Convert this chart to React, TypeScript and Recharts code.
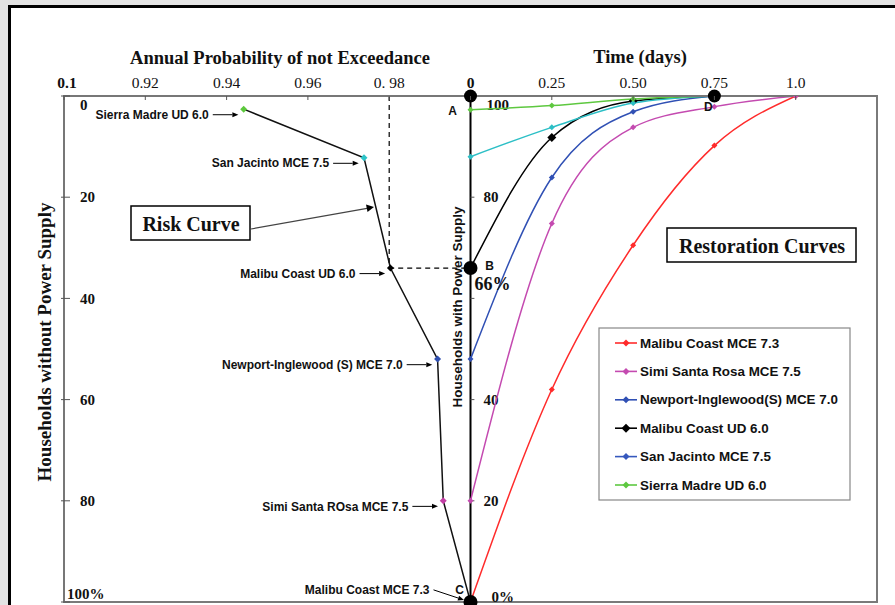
import React from 'react';
import {
  ComposedChart,
  Line,
  XAxis,
  YAxis,
  ReferenceLine,
  ReferenceDot,
  ReferenceArea,
} from 'recharts';

const SERIF = '"Liberation Serif", "Times New Roman", serif';
const SANS = '"Liberation Sans", Arial, sans-serif';

// Risk curve (left half): annual probability of not exceedance vs % households without power
const riskLabels = [
  'Sierra Madre UD 6.0',
  'San Jacinto MCE 7.5',
  'Malibu Coast UD 6.0',
  'Newport-Inglewood (S) MCE 7.0',
  'Simi Santa ROsa MCE 7.5',
  'Malibu Coast MCE 7.3',
];
const riskProbability = [0.9442, 0.9738, 0.9803, 0.9919, 0.9933, 1.0];
const riskWithoutPower = [2.6, 12.2, 34, 52, 80, 100];
const riskDotColors = ['#5cc83c', '#2ec4c8', '#000000', '#2f4fb0', '#c23fa4', '#000000'];

// Restoration curves (right half): time in days vs % households with power
const days = [0, 0.25, 0.5, 0.75, 1.0];
const malibuMce73 = [0, 42, 70.5, 90.2, 100];
const simiMce75 = [20, 74.8, 93.8, 97.9, 100];
const newportMce70 = [48, 83.9, 96.9, 100, null];
const malibuUd60 = [66, 91.8, 99, 100, null];
const sanJacintoMce75 = [88, 93.8, 98.6, 100, null];
const sierraUd60 = [97.3, 98.1, 99.4, 100, null];

const seriesNames = [
  'Malibu Coast MCE 7.3',
  'Simi Santa Rosa MCE 7.5',
  'Newport-Inglewood(S) MCE 7.0',
  'Malibu Coast UD 6.0',
  'San Jacinto MCE 7.5',
  'Sierra Madre UD 6.0',
];
const seriesValues = [malibuMce73, simiMce75, newportMce70, malibuUd60, sanJacintoMce75, sierraUd60];
const seriesColors = ['#ff2b2b', '#c44ab0', '#3050b4', '#000000', '#2cbfc6', '#5ec840'];
const legendColors = ['#ff2b2b', '#c44ab0', '#3050b4', '#000000', '#3658bd', '#5ec840'];

// axis ticks (top axis: left half shows probability, right half shows days)
const topTicks = [-1.25, -1, -0.75, -0.5, -0.25, 0, 0.25, 0.5, 0.75, 1];
const topTickLabels = ['0.1', '0.92', '0.94', '0.96', '0. 98', '0', '0.25', '0.50', '0.75', '1.0'];
const leftTicks = [0, 20, 40, 60, 80, 100];
const leftTickLabels = ['0', '20', '40', '60', '80', '100%'];
const midTicks = [0, 20, 40, 60, 80, 100];
const midTickLabels = ['0%', '20', '40', '', '80', '100'];

const riskData = riskProbability.map((p, i) => ({ p, w: riskWithoutPower[i] }));
const restorationData = seriesValues.map((vals) =>
  days.map((t, i) => ({ t, v: vals[i] })).filter((d) => d.v !== null)
);

const diamond = (cx: number, cy: number, r: number, fill: string, key?: any) => (
  <polygon
    key={key}
    points={`${cx},${cy - r} ${cx + r},${cy} ${cx},${cy + r} ${cx - r},${cy}`}
    fill={fill}
  />
);

const diamondDot = (color: string, r: number) => (props: any) => {
  const { cx, cy, index } = props;
  if (cx == null || cy == null) return <g key={index} />;
  return diamond(cx, cy, r, color, index);
};

const riskDot = (props: any) => {
  const { cx, cy, index } = props;
  if (cx == null || cy == null) return <g key={index} />;
  return diamond(cx, cy, 3.5, riskDotColors[index], index);
};

const arrowShape = (props: any) => {
  const { x1, y1, x2, y2 } = props;
  const a = Math.atan2(y2 - y1, x2 - x1);
  const bx = x2 - 6 * Math.cos(a);
  const by = y2 - 6 * Math.sin(a);
  const px = -Math.sin(a) * 2.5;
  const py = Math.cos(a) * 2.5;
  return (
    <g>
      <line x1={x1} y1={y1} x2={bx} y2={by} stroke="#000" strokeWidth={1} />
      <polygon points={`${x2},${y2} ${bx + px},${by + py} ${bx - px},${by - py}`} fill="#000" />
    </g>
  );
};

const pointLabel = (text: string) => (props: any) => {
  const vb = props.viewBox;
  return (
    <text x={vb.x - 4} y={vb.y} dy="0.35em" textAnchor="end" fontFamily={SANS}
      fontWeight="bold" fontSize={12} fill="#111">
      {text}
    </text>
  );
};

const dotText = (text: string, dx: number, dy: number, font = SANS, size = 12, anchor = 'middle') =>
  (props: any) => {
    const vb = props.viewBox;
    const cx = vb.x + (vb.width || 0) / 2;
    const cy = vb.y + (vb.height || 0) / 2;
    return (
      <text x={cx + dx} y={cy + dy} dy="0.35em" textAnchor={anchor} fontFamily={font}
        fontWeight="bold" fontSize={size} fill="#111">
        {text}
      </text>
    );
  };

const TopTick = (props: any) => {
  const { x, y, index } = props;
  const bold = index === 0 || index === 5;
  return (
    <g>
      <line x1={x} x2={x} y1={y} y2={y + 4} stroke="#555" strokeWidth={1} />
      <text x={x + (index === 0 ? 3 : 0)} y={y - 8} textAnchor="middle" fontFamily={SERIF}
        fontSize={15.5} fontWeight={bold ? 'bold' : 'normal'} fill="#111">
        {topTickLabels[index]}
      </text>
    </g>
  );
};

const LeftTick = (props: any) => {
  const { x, y, index } = props;
  const last = index === leftTicks.length - 1;
  const dy = index === 0 ? 9 : last ? -8 : 0;
  return (
    <g>
      <line x1={x - 3} x2={x + 6} y1={y} y2={y} stroke="#555" strokeWidth={1} />
      <text x={x + (last ? 3 : 16)} y={y + dy} dy="0.35em" textAnchor="start" fontFamily={SERIF}
        fontSize={15} fontWeight="bold" fill="#111">
        {leftTickLabels[index]}
      </text>
    </g>
  );
};

function Legend() {
  return (
    <g>
      <rect x={599} y={328} width={251} height={172} fill="#fff" stroke="#888" strokeWidth={1.2} />
      {seriesNames.map((name, i) => {
        const y = 343 + i * 28.4;
        return (
          <g key={name}>
            <line x1={615} x2={637} y1={y} y2={y} stroke={legendColors[i]} strokeWidth={1.6} />
            {diamond(626, y, i === 3 ? 4.5 : 3.5, legendColors[i])}
            <text x={640} y={y} dy="0.35em" fontFamily={SANS} fontWeight="bold" fontSize={13.4} fill="#111">
              {name}
            </text>
          </g>
        );
      })}
    </g>
  );
}

export default function App() {
  return (
    <div style={{ position: 'absolute', left: 0, top: 0, width: 895, height: 605, background: '#e3e3e3', overflow: 'hidden' }}>
      <div style={{ position: 'absolute', left: 8, top: 5, width: 895, height: 620, border: '3px solid #000', background: '#fff' }} />
      <div style={{ position: 'absolute', left: 0, top: 0 }}>
        <ComposedChart width={895} height={605} margin={{ top: 66, right: 18, bottom: 3, left: 64 }}>
          <XAxis xAxisId="time" dataKey="t" type="number" orientation="top" domain={[-1.25, 1.25]}
            ticks={topTicks} interval={0} height={30} tickSize={0} tickMargin={0} allowDataOverflow
            axisLine={{ stroke: '#777', strokeWidth: 2 }} tickLine={false} tick={(p: any) => <TopTick {...p} />} />
          <XAxis xAxisId="prob" dataKey="p" type="number" orientation="bottom" domain={[0.9, 1.1]} hide allowDataOverflow />
          <YAxis yAxisId="without" type="number" orientation="left" mirror reversed domain={[0, 100]}
            ticks={leftTicks} interval={0} tickSize={0} tickMargin={0} allowDataOverflow
            axisLine={{ stroke: '#777', strokeWidth: 2 }} tickLine={false} tick={(p: any) => <LeftTick {...p} />} />
          <YAxis yAxisId="with" type="number" orientation="right" domain={[0, 100]} hide allowDataOverflow />

          <ReferenceArea xAxisId="time" yAxisId="with" x1={-1.25} x2={1.25} y1={0} y2={100}
            fill="none" stroke="#7a7a7a" strokeWidth={2} fillOpacity={0} />

          {/* dashed guide from Malibu Coast UD 6.0 to point B */}
          <ReferenceLine xAxisId="prob" yAxisId="without" segment={[{ x: 0.98, y: 0 }, { x: 0.98, y: riskWithoutPower[2] }]}
            stroke="#000" strokeDasharray="5 4" strokeWidth={1.2} />
          <ReferenceLine xAxisId="prob" yAxisId="without" segment={[{ x: 0.98, y: riskWithoutPower[2] }, { x: 1.0, y: riskWithoutPower[2] }]}
            stroke="#000" strokeDasharray="5 4" strokeWidth={1.2} />

          {/* middle axis: households with power supply */}
          <ReferenceLine xAxisId="time" yAxisId="with" x={0} stroke="#000" strokeWidth={2} />
          {midTicks.map((v, i) => {
            const last = i === midTicks.length - 1;
            const dx = i === 0 ? 21 : last ? 16 : 13;
            const dy = i === 0 ? -5 : last ? 9 : 0;
            return (
              <ReferenceLine key={'mt' + v} xAxisId="time" yAxisId="with"
                segment={[{ x: 0, y: v }, { x: 0.012, y: v }]} stroke="#555" strokeWidth={1}
                label={(p: any) => (
                  <text x={p.viewBox.x + dx} y={p.viewBox.y + dy} dy="0.35em" fontFamily={SERIF}
                    fontSize={15} fontWeight="bold" fill="#111">
                    {midTickLabels[i]}
                  </text>
                )} />
            );
          })}

          <Line data={riskData} xAxisId="prob" yAxisId="without" dataKey="w" type="linear"
            stroke="#111" strokeWidth={1.5} dot={riskDot} activeDot={false} isAnimationActive={false} />

          {restorationData.map((d, k) => (
            <Line key={seriesNames[k]} data={d} xAxisId="time" yAxisId="with" dataKey="v" type="monotone"
              stroke={seriesColors[k]} strokeWidth={1.5} dot={diamondDot(seriesColors[k], k === 3 ? 4.5 : 3)}
              activeDot={false} isAnimationActive={false} />
          ))}

          {/* event labels with arrows on the risk curve */}
          {riskProbability.slice(0, 5).map((p, i) => (
            <ReferenceLine key={'lab' + i} xAxisId="prob" yAxisId="without"
              segment={[{ x: p - 0.0076, y: riskWithoutPower[i] + 1.1 }, { x: p - 0.0013, y: riskWithoutPower[i] + 1.1 }]}
              shape={arrowShape} label={pointLabel(riskLabels[i])} />
          ))}
          <ReferenceLine xAxisId="prob" yAxisId="without"
            segment={[{ x: riskProbability[5] - 0.0091, y: riskWithoutPower[5] - 2.4 }, { x: riskProbability[5] - 0.0016, y: riskWithoutPower[5] - 0.4 }]}
            shape={arrowShape} label={pointLabel(riskLabels[5])} />

          {/* points A, B, C, D */}
          <ReferenceDot xAxisId="time" yAxisId="with" x={0} y={sierraUd60[0] as number} r={0}
            fill="none" stroke="none" label={dotText('A', -18, 1)} />
          <ReferenceDot xAxisId="time" yAxisId="with" x={0} y={100} r={6.5} fill="#000" stroke="none" />
          <ReferenceDot xAxisId="time" yAxisId="with" x={0} y={malibuUd60[0] as number} r={7} fill="#000" stroke="none"
            label={dotText('B', 19, -2)} />
          <ReferenceDot xAxisId="time" yAxisId="with" x={0} y={malibuUd60[0] as number} r={0} fill="none" stroke="none"
            label={dotText('66%', 22, 16, SERIF, 18)} />
          <ReferenceDot xAxisId="time" yAxisId="with" x={0} y={malibuMce73[0] as number} r={7} fill="#000" stroke="none"
            label={dotText('C', -11, -12)} />
          <ReferenceDot xAxisId="time" yAxisId="with" x={days[3]} y={malibuUd60[3] as number} r={6.5} fill="#000" stroke="none"
            label={dotText('D', -6, 11)} />
        </ComposedChart>
      </div>

      <svg width={895} height={605} style={{ position: 'absolute', left: 0, top: 0, pointerEvents: 'none' }}>
        <text x={280} y={64} textAnchor="middle" fontFamily={SERIF} fontWeight="bold" fontSize={18.5} fill="#111">
          Annual Probability of not Exceedance
        </text>
        <text x={640} y={63} textAnchor="middle" fontFamily={SERIF} fontWeight="bold" fontSize={18.5} fill="#111">
          Time (days)
        </text>
        <text transform="translate(51,342) rotate(-90)" textAnchor="middle" fontFamily={SERIF} fontWeight="bold" fontSize={19} fill="#111">
          Households without Power Supply
        </text>
        <text transform="translate(462,307) rotate(-90)" textAnchor="middle" fontFamily={SANS} fontWeight="bold" fontSize={13.5} fill="#111">
          Households with Power Supply
        </text>

        <rect x={131} y={206} width={119} height={34} fill="#fff" stroke="#000" strokeWidth={1.5} />
        <text x={191} y={231} textAnchor="middle" fontFamily={SERIF} fontWeight="bold" fontSize={20} fill="#111">
          Risk Curve
        </text>
        <line x1={251} y1={229} x2={367} y2={208.3} stroke="#444" strokeWidth={1.2} />
        <polygon points="374,207 366,204.5 367.5,212" fill="#000" />

        <rect x={667} y={228} width={189} height={34} fill="#fff" stroke="#000" strokeWidth={1.5} />
        <text x={762} y={253} textAnchor="middle" fontFamily={SERIF} fontWeight="bold" fontSize={20} fill="#111">
          Restoration Curves
        </text>

        <Legend />
      </svg>
    </div>
  );
}
